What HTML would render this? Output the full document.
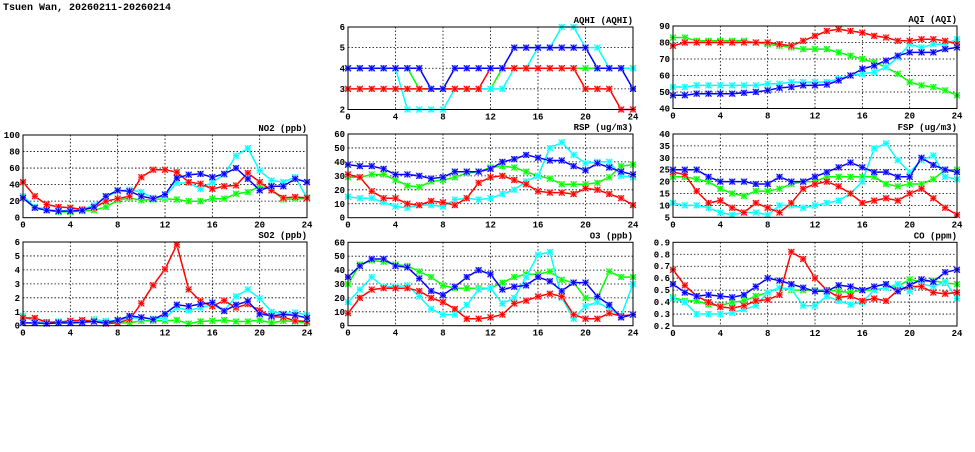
<!DOCTYPE html>
<html><head><meta charset="utf-8"><style>
html,body{margin:0;padding:0;background:#fff;}
svg text{font-family:"Liberation Mono",monospace;font-weight:bold;fill:#000;}
</style></head><body>
<svg id="s" width="975" height="447" xmlns="http://www.w3.org/2000/svg">
<text x="3" y="10" font-size="10">Tsuen Wan, 20260211-20260214</text>
</svg>
<script>
const S=document.getElementById('s');
const NS='http://www.w3.org/2000/svg';
function el(t,a,txt){const e=document.createElementNS(NS,t);for(const k in a)e.setAttribute(k,a[k]);if(txt!==undefined)e.textContent=txt;S.appendChild(e);return e;}
const panels=[
 {t:'AQHI (AQHI)',x0:348,x1:633,y0:27,y1:109.5,min:2,max:6,ticks:[2,3,4,5,6],fmt:v=>v,
  d:{green:[4,4,4,4,4,4,3,3,3,3,3,3,3,4,4,4,4,4,4,4,4,4,4,4,4],
     cyan:[4,4,4,4,4,2,2,2,2,3,3,3,3,3,4,4,5,5,6,6,5,5,4,4,4],
     red:[3,3,3,3,3,3,3,3,3,3,3,3,4,4,4,4,4,4,4,4,3,3,3,2,2],
     blue:[4,4,4,4,4,4,4,3,3,4,4,4,4,4,5,5,5,5,5,5,5,4,4,4,3]}},
 {t:'AQI (AQI)',x0:673,x1:957,y0:26,y1:108.5,min:40,max:90,ticks:[40,50,60,70,80,90],fmt:v=>v,
  d:{green:[83,83,81,81,81,81,81,80,79,78,77,76,76,76,74,72,70,68,65,61,56,54,53,51,48],
     cyan:[53,53,54,54,54,54,54,54,55,55,56,56,56,56,58,60,61,62,65,71,79,77,79,79,82],
     red:[78,80,80,80,80,80,80,80,80,79,78,81,84,87,88,87,86,84,83,81,81,82,82,81,79],
     blue:[48,48,49,49,49,49,49.5,50,51,52.5,53,54,54,54.5,57,60,64,66,69,72,74,74,74,76,77]}},
 {t:'NO2 (ppb)',x0:23,x1:307,y0:135,y1:217.7,min:0,max:100,ticks:[0,20,40,60,80,100],fmt:v=>v,
  d:{green:[24,12,9,7,7,8,9,13,21,24,21,22,23,22,20,20,23,23,29,31,38,34,22,23,23],
     cyan:[26,13,10,8,9,10,15,25,32,34,31,24,26,42,42,35,43,52,75,84,57,45,43,49,24],
     red:[43,26,16,13,12,10,12,20,23,26,49,58,58,55,43,41,35,38,39,54,43,33,24,25,24],
     blue:[24,12,9,8,8,9,13,26,33,32,26,23,28,48,52,53,49,53,60,47,33,38,38,47,43]}},
 {t:'RSP (ug/m3)',x0:348,x1:633,y0:134,y1:217.7,min:0,max:60,ticks:[0,10,20,30,40,50,60],fmt:v=>v,
  d:{green:[29,29,31,31,27,23,22,26,27,29,32,33,36,37,36,33,30,28,24,24,24,25,29,37,38],
     cyan:[15,14,14,11,8,7,9,9,8,13,14,13,14,17,20,26,30,50,54,45,39,40,40,30,29],
     red:[31,29,19,14,14,10,9,12,11,9,14,25,29,30,27,24,19,18,18,17,21,20,17,14,9],
     blue:[38,37,37,35,31,31,30,28,29,33,33,33,35,40,42,45,43,41,41,37,34,39,36,33,31]}},
 {t:'FSP (ug/m3)',x0:673,x1:957,y0:134,y1:217.3,min:5,max:40,ticks:[5,10,15,20,25,30,35,40],fmt:v=>v,
  d:{green:[22,22,21,20,17,15,14,16,16,17,19,20,20,22,22,22,22,22,19,18,19,19,21,25,25],
     cyan:[11,10,10,9,7,6,7,7,6,10,10,9,10,11,12,15,20,34,36,29,24,29,31,22,21],
     red:[24,23,16,11,12,9,7,11,9,7,11,17,19,20,18,15,11,12,13,12,15,17,13,9,6],
     blue:[25,25,25,22,20,20,20,19,19,22,20,20,22,24,26,28,26,24,24,22,22,30,27,25,24]}},
 {t:'SO2 (ppb)',x0:23,x1:307,y0:242,y1:325.7,min:0,max:6,ticks:[0,1,2,3,4,5,6],fmt:v=>v,
  d:{green:[.7,.3,.2,.2,.2,.2,.45,.3,.2,.2,.35,.35,.35,.4,.15,.3,.35,.4,.3,.3,.4,.2,.35,.3,.2],
     cyan:[.7,.3,.25,.3,.3,.35,.4,.35,.35,.55,.55,.5,.55,1.3,1.1,1.3,1.5,1.1,2.1,2.6,1.95,1.0,.85,.95,.75],
     red:[.55,.55,.25,.25,.35,.4,.3,.15,.2,.45,1.6,2.9,4.05,5.8,2.6,1.75,1.4,1.8,1.3,1.55,1.1,.65,.6,.35,.3],
     blue:[.2,.2,.15,.2,.2,.25,.3,.2,.4,.7,.6,.45,.85,1.5,1.4,1.55,1.65,1.05,1.5,1.75,.85,.7,.8,.75,.55]}},
 {t:'O3 (ppb)',x0:348,x1:633,y0:242.3,y1:325.7,min:0,max:60,ticks:[0,10,20,30,40,50,60],fmt:v=>v,
  d:{green:[30,44,47,46,44,43,39,35,29,27,27,27,27,31,35,37,37,39,33,31,20,20,39,35,35],
     cyan:[17,26,35,28,28,29,21,12,8,8,15,26,27,16,20,35,51,53,20,5,14,17,12,7,30],
     red:[9,20,26,27,27,27,25,20,17,12,5,5,6,8,16,18,21,23,21,8,5,5,9,7,8],
     blue:[35,43,48,48,43,42,34,25,22,28,35,40,37,26,28,29,35,32,25,31,31,21,15,6,8]}},
 {t:'CO (ppm)',x0:673,x1:957,y0:242.3,y1:326,min:0.2,max:0.9,ticks:[0.2,0.3,0.4,0.5,0.6,0.7,0.8,0.9],fmt:v=>v.toFixed(1),
  d:{green:[.44,.41,.41,.38,.37,.4,.41,.45,.48,.52,.5,.5,.5,.5,.49,.48,.5,.5,.52,.53,.59,.57,.58,.56,.55],
     cyan:[.43,.4,.3,.3,.3,.31,.34,.37,.48,.52,.51,.37,.37,.45,.41,.38,.4,.5,.52,.55,.49,.55,.53,.57,.43],
     red:[.67,.54,.45,.4,.36,.35,.37,.41,.42,.46,.82,.76,.6,.5,.44,.45,.41,.43,.41,.5,.53,.53,.48,.47,.48],
     blue:[.55,.48,.45,.46,.45,.44,.46,.53,.6,.58,.55,.52,.49,.49,.54,.53,.5,.53,.55,.49,.54,.59,.57,.65,.67]}}
];
const col={green:'#00ff00',cyan:'#00ffff',red:'#ff0000',blue:'#0000ff'};
const lite={green:'#a0ffa0',cyan:'#a0ffff',red:'#ffa0a0',blue:'#a0a0ff'};
for(const p of panels){
  const X=i=>p.x0+(p.x1-p.x0)*i/24;
  const Y=v=>p.y1-(p.y1-p.y0)*(v-p.min)/(p.max-p.min);
  for(const v of p.ticks){
    const y=Y(v);
    if(v!==p.min&&v!==p.max) el('line',{x1:p.x0,x2:p.x1,y1:y,y2:y,stroke:'#000','stroke-width':0.8,'stroke-dasharray':'1.5,2'});
    el('text',{x:p.x0-3,y:y+3,'font-size':9,'text-anchor':'end','font-family':'Liberation Sans'},p.fmt(v));
  }
  for(let h=0;h<=24;h+=4){
    const x=X(h);
    if(h>0&&h<24) el('line',{x1:x,x2:x,y1:p.y0,y2:p.y1,stroke:'#000','stroke-width':0.8,'stroke-dasharray':'1.5,2'});
    el('text',{x:x,y:p.y1+10,'font-size':9,'text-anchor':'middle','font-family':'Liberation Sans'},h);
  }
  el('text',{x:p.x1,y:p.y0-4,'font-size':9,'text-anchor':'end'},p.t);
  for(const k of ['green','cyan','red','blue']){
    const arr=p.d[k];
    el('polyline',{points:arr.map((v,i)=>X(i).toFixed(1)+','+Y(v).toFixed(1)).join(' '),fill:'none',stroke:col[k],'stroke-width':1.5});
    arr.forEach((v,i)=>{
      const x=X(i),y=Y(v),r=3;
      el('rect',{x:x-3,y:y-3,width:6,height:6,fill:lite[k]});
      el('path',{d:`M${x-r},${y-r}L${x+r},${y+r}M${x-r},${y+r}L${x+r},${y-r}M${x},${y-r}L${x},${y+r}M${x-r},${y}L${x+r},${y}`,stroke:col[k],'stroke-width':1});
    });
  }
  el('rect',{x:p.x0,y:p.y0,width:p.x1-p.x0,height:p.y1-p.y0,fill:'none',stroke:'#000','stroke-width':1});
}
</script>
</body></html>
